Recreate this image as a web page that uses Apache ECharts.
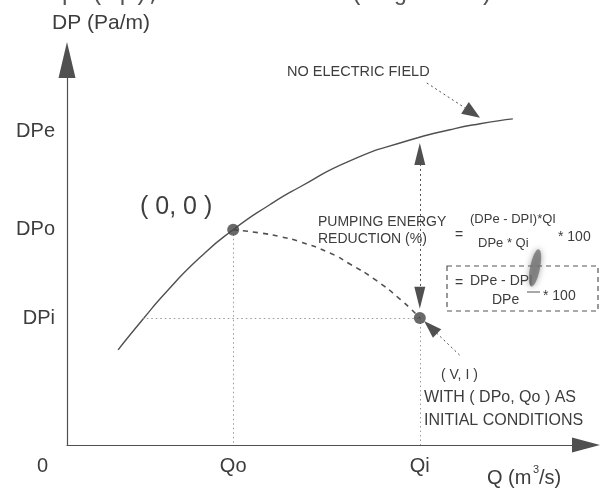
<!DOCTYPE html>
<html><head><meta charset="utf-8">
<script src="https://cdn.jsdelivr.net/npm/echarts@6/dist/echarts.min.js"></script>
<style>html,body{margin:0;padding:0;background:#fff}#c{width:608px;height:489px}</style>
</head><body><div id="c"></div>
<script>
// ---- data (arbitrary schematic units) ----
const flowTicks = ['Qo', 'Qi'];
const flowValues = [30.9, 65.6];
const pressureTicks = ['DPe', 'DPo', 'DPi'];
const pressureValues = [77.7, 53.4, 31.5];
// curve without electric field
const noFieldQ  = [9.5, 14.0, 18.5, 24.7, 30.9, 37.7, 43.3, 52.6, 63.6, 71.2, 76.8, 82.9];
const noFieldDP = [23.6, 31.0, 38.0, 46.5, 53.4, 59.6, 64.0, 70.5, 75.6, 78.2, 79.7, 80.9];
// curve with electric field (V, I)
const fieldQ  = [30.9, 35.9, 39.6, 43.3, 48.9, 52.6, 57.3, 61.9, 65.6];
const fieldDP = [53.4, 52.6, 51.7, 50.4, 47.6, 44.9, 41.0, 36.2, 31.5];
// operating points
const pointQ  = [30.9, 65.6];
const pointDP = [53.4, 31.5];
// guide lines [from, to]
const guideLines = [
  [[30.9, 53.4], [30.9, 0]],
  [[65.6, 31.5], [65.6, 0]],
  [[14.0, 31.5], [65.6, 31.5]]
];
// annotation arrows [from, to]
const reductionArrow = [[65.6, 72.2], [65.6, 36.5]];
const fieldArrow = [[66.9, 89.8], [75.4, 82.4]];
const pointArrow = [[73.0, 22.3], [67.6, 29.2]];

const zip = (a, b) => a.map((v, i) => [v, b[i]]);
const FONT = '"Liberation Sans", Arial, sans-serif';
const INK = '#3d3d3d';
const LINE = '#505050';

const chart = echarts.init(document.getElementById('c'), null, {renderer: 'canvas'});

function arrowSeries(pair, sym, size, lineType) {
  return {
    type: 'line', data: [], silent: true,
    markLine: {
      silent: true, animation: false,
      symbol: sym, symbolSize: size,
      label: {show: false},
      lineStyle: {color: LINE, width: 1, type: lineType},
      emphasis: {disabled: true},
      data: [[{coord: pair[0]}, {coord: pair[1]}]]
    }
  };
}

const txt = (x, y, text, size, extra) => ({
  type: 'text', x: x, y: y, silent: true,
  style: Object.assign({text: text, fill: INK, font: size + 'px ' + FONT, verticalAlign: 'middle'}, extra || {})
});

chart.setOption({
  animation: false,
  backgroundColor: '#ffffff',
  grid: {left: 67, right: 22, top: 60, bottom: 44},
  xAxis: {
    type: 'value', min: 0, max: 96.5,
    splitLine: {show: false},
    axisTick: {show: false},
    axisLine: {show: true, lineStyle: {color: LINE, width: 1.2}, symbol: ['none', 'triangle'], symbolSize: [15, 28]},
    axisLabel: {
      customValues: flowValues, margin: 11, color: INK, fontSize: 20, fontFamily: FONT,
      formatter: v => { const i = flowValues.indexOf(v); return i >= 0 ? flowTicks[i] : ''; }
    }
  },
  yAxis: {
    type: 'value', min: 0, max: 95.5,
    splitLine: {show: false},
    axisTick: {show: false},
    axisLine: {show: true, lineStyle: {color: LINE, width: 1.2}, symbol: ['none', 'triangle'], symbolSize: [17, 36]},
    axisLabel: {
      customValues: pressureValues, margin: 12, color: INK, fontSize: 20, fontFamily: FONT,
      formatter: v => { const i = pressureValues.indexOf(v); return i >= 0 ? pressureTicks[i] : ''; }
    }
  },
  series: [
    {
      type: 'line', silent: true, data: [],
      markLine: {
        silent: true, animation: false, symbol: 'none', label: {show: false},
        lineStyle: {color: '#9a9a9a', width: 1, type: [1.5, 3]},
        data: guideLines.map(p => [{coord: p[0]}, {coord: p[1]}])
      }
    },
    {
      type: 'line', data: zip(noFieldQ, noFieldDP), smooth: 0.6, showSymbol: false,
      lineStyle: {color: LINE, width: 1.4}
    },
    {
      type: 'line', data: zip(fieldQ, fieldDP), smooth: 0.6, showSymbol: false,
      lineStyle: {color: LINE, width: 1.6, type: [5, 5]}
    },
    arrowSeries(reductionArrow, ['triangle', 'triangle'], [11, 22], [2, 3]),
    arrowSeries(fieldArrow, ['none', 'triangle'], [14, 18], [2, 3]),
    arrowSeries(pointArrow, ['none', 'triangle'], [12, 18], [2, 3]),
    {
      type: 'scatter', data: zip(pointQ, pointDP), symbolSize: 12,
      itemStyle: {color: '#444'}, z: 5
    }
  ],
  graphic: [
    txt(-68, 6, 'ssure drop (Δp), is measured (Fig.5 11).', 24, {font: '24px "Liberation Mono", "Courier New", monospace', fill: '#555', verticalAlign: 'bottom'}),
    txt(52, 23, 'DP (Pa/m)', 21),
    txt(37, 466, '0', 20),
    txt(487, 478, 'Q (m', 20),
    txt(533, 470, '3', 11),
    txt(539, 478, '/s)', 20),
    txt(140, 207, '( 0, 0 )', 25),
    txt(287, 72, 'NO ELECTRIC FIELD', 14.5),
    txt(318, 222, 'PUMPING ENERGY', 14),
    txt(318, 239, 'REDUCTION (%)', 14),
    txt(455, 235, '=', 14),
    txt(470, 219, '(DPe - DPI)*QI', 13),
    txt(478, 243, 'DPe * Qi', 13),
    txt(558, 237, '* 100', 14),
    {type: 'rect', silent: true, shape: {x: 447, y: 266, width: 151, height: 45},
     style: {fill: 'none', stroke: '#555', lineWidth: 1.2, lineDash: [5, 4]}},
    txt(455, 283, '=', 14),
    txt(470, 281, 'DPe - DPI', 14),
    txt(492, 300, 'DPe', 14),
    {type: 'line', silent: true, shape: {x1: 527, y1: 292, x2: 540, y2: 292}, style: {stroke: '#555', lineWidth: 1}},
    txt(543, 296, '* 100', 14),
    {type: 'ellipse', silent: true, shape: {cx: 535, cy: 268, rx: 5, ry: 19}, rotation: -0.2, originX: 535, originY: 268,
     style: {fill: 'rgba(110,110,110,0.75)', shadowBlur: 6, shadowColor: 'rgba(110,110,110,0.8)'}},
    txt(441, 375, '( V, I )', 14),
    txt(424, 398, 'WITH ( DPo, Qo ) AS', 16),
    txt(424, 421, 'INITIAL CONDITIONS', 16)
  ]
});
</script></body></html>
